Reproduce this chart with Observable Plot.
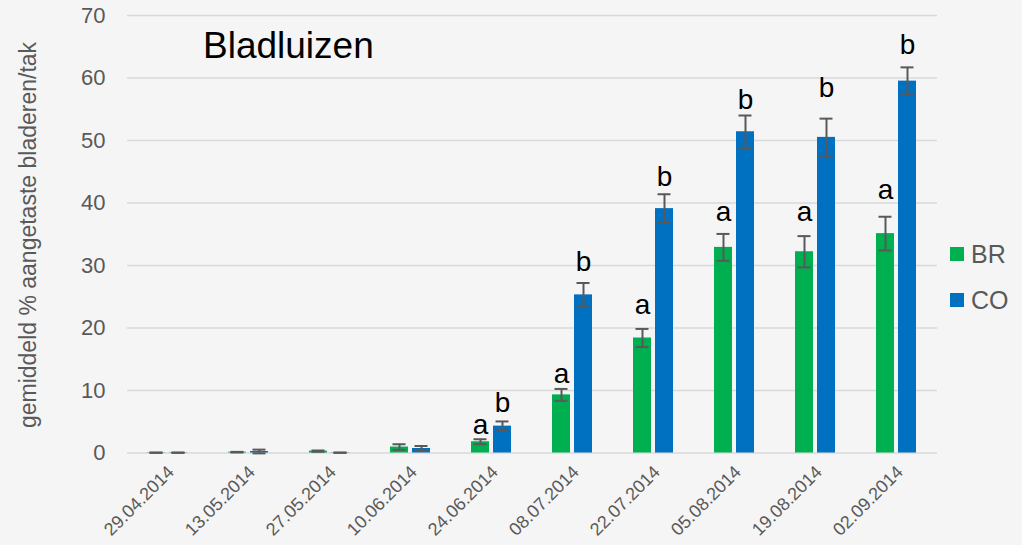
<!DOCTYPE html>
<html><head><meta charset="utf-8">
<script src="https://cdn.jsdelivr.net/npm/d3@7"></script>
<script src="https://cdn.jsdelivr.net/npm/@observablehq/plot@0.6"></script>
<style>
html,body{margin:0;padding:0;background:#f5f5f5;}
#wrap{position:relative;width:1022px;height:545px;overflow:hidden;font-family:"Liberation Sans",Arial,sans-serif;}
#title{position:absolute;left:203px;top:24px;font-size:37px;color:#000;line-height:44px;}
#ylab{position:absolute;left:28px;top:235px;transform:translate(-50%,-50%) rotate(-90deg);white-space:nowrap;font-size:23px;line-height:26px;color:#595959;}
.leg{position:absolute;left:950px;font-size:25px;color:#595959;display:flex;align-items:center;line-height:30px;height:30px;}
.sw{width:14px;height:14px;margin-right:7px;}
</style></head><body>
<div id="wrap"><div id="chart"></div><div id="title">Bladluizen</div>
<div id="ylab">gemiddeld % aangetaste bladeren/tak</div>
<div class="leg" style="top:239px"><span class="sw" style="background:#00b050"></span>BR</div>
<div class="leg" style="top:284.5px"><span class="sw" style="background:#0070c0"></span>CO</div>
</div>
<script>
const dates = ["29.04.2014","13.05.2014","27.05.2014","10.06.2014","24.06.2014","08.07.2014","22.07.2014","05.08.2014","19.08.2014","02.09.2014"];
const seriesNames = ["BR","CO"];
const brMean = [0.05,0.13,0.3,0.95,1.8,9.3,18.4,32.9,32.2,35.1];
const coMean = [0.05,0.24,0.05,0.72,4.3,25.3,39.1,51.4,50.5,59.5];
const brErr = [0.03,0.05,0.1,0.45,0.4,0.95,1.45,2.15,2.5,2.7];
const coErr = [0.03,0.3,0.03,0.4,0.75,1.9,2.3,2.6,3.0,2.2];
const brLetter = ["","","","","a","a","a","a","a","a"];
const coLetter = ["","","","","b","b","b","b","b","b"];
const brLetterY = [null,null,null,null,3.07,11.2,22.3,37.1,37.2,40.7];
const coLetterY = [null,null,null,null,6.5,29.2,42.8,55.0,56.9,63.9];
const yTicks = [0,10,20,30,40,50,60,70];
const colors = ["#00b050","#0070c0"];

const rows = dates.flatMap((d,i)=>[
  {date:d, series:"BR", value:brMean[i], err:brErr[i], letter:brLetter[i], ly:brLetterY[i]},
  {date:d, series:"CO", value:coMean[i], err:coErr[i], letter:coLetter[i], ly:coLetterY[i]}
]);
const lettered = rows.filter(d=>d.letter);

const chart = Plot.plot({
  width:1022, height:545,
  marginLeft:125, marginRight:84, marginTop:15, marginBottom:92.5,
  style:{background:"#f5f5f5", fontFamily:"'Liberation Sans', Arial, sans-serif", overflow:"visible"},
  fx:{domain:dates, padding:0, label:null},
  x:{domain:seriesNames, paddingInner:0.174, paddingOuter:0.854, axis:null},
  y:{domain:[0,70]},
  color:{domain:seriesNames, range:colors},
  marks:[
    Plot.gridY(yTicks, {stroke:"#d9d9d9", strokeOpacity:1, strokeWidth:1.5}),
    Plot.axisY(yTicks, {tickSize:0, tickPadding:22, fontSize:22, color:"#595959", label:null}),
    Plot.axisFx({anchor:"bottom", tickRotate:-45, tickSize:0, tickPadding:16, dx:3, fontSize:18, color:"#595959", label:null}),
    Plot.barY(rows, {fx:"date", x:"series", y:"value", fill:"series"}),
    Plot.ruleX(rows, {fx:"date", x:"series", y1:d=>d.value-d.err, y2:d=>d.value+d.err, stroke:"#595959", strokeWidth:2}),
    Plot.tickY(rows, {fx:"date", x:"series", y:d=>d.value+d.err, stroke:"#595959", strokeWidth:2, insetLeft:2.5, insetRight:2.5}),
    Plot.tickY(rows, {fx:"date", x:"series", y:d=>d.value-d.err, stroke:"#595959", strokeWidth:2, insetLeft:2.5, insetRight:2.5}),
    Plot.text(lettered, {fx:"date", x:"series", y:"ly", text:"letter", lineAnchor:"bottom", fontSize:28, fill:"#000"})
  ]
});
document.getElementById("chart").appendChild(chart);
</script>
</body></html>
